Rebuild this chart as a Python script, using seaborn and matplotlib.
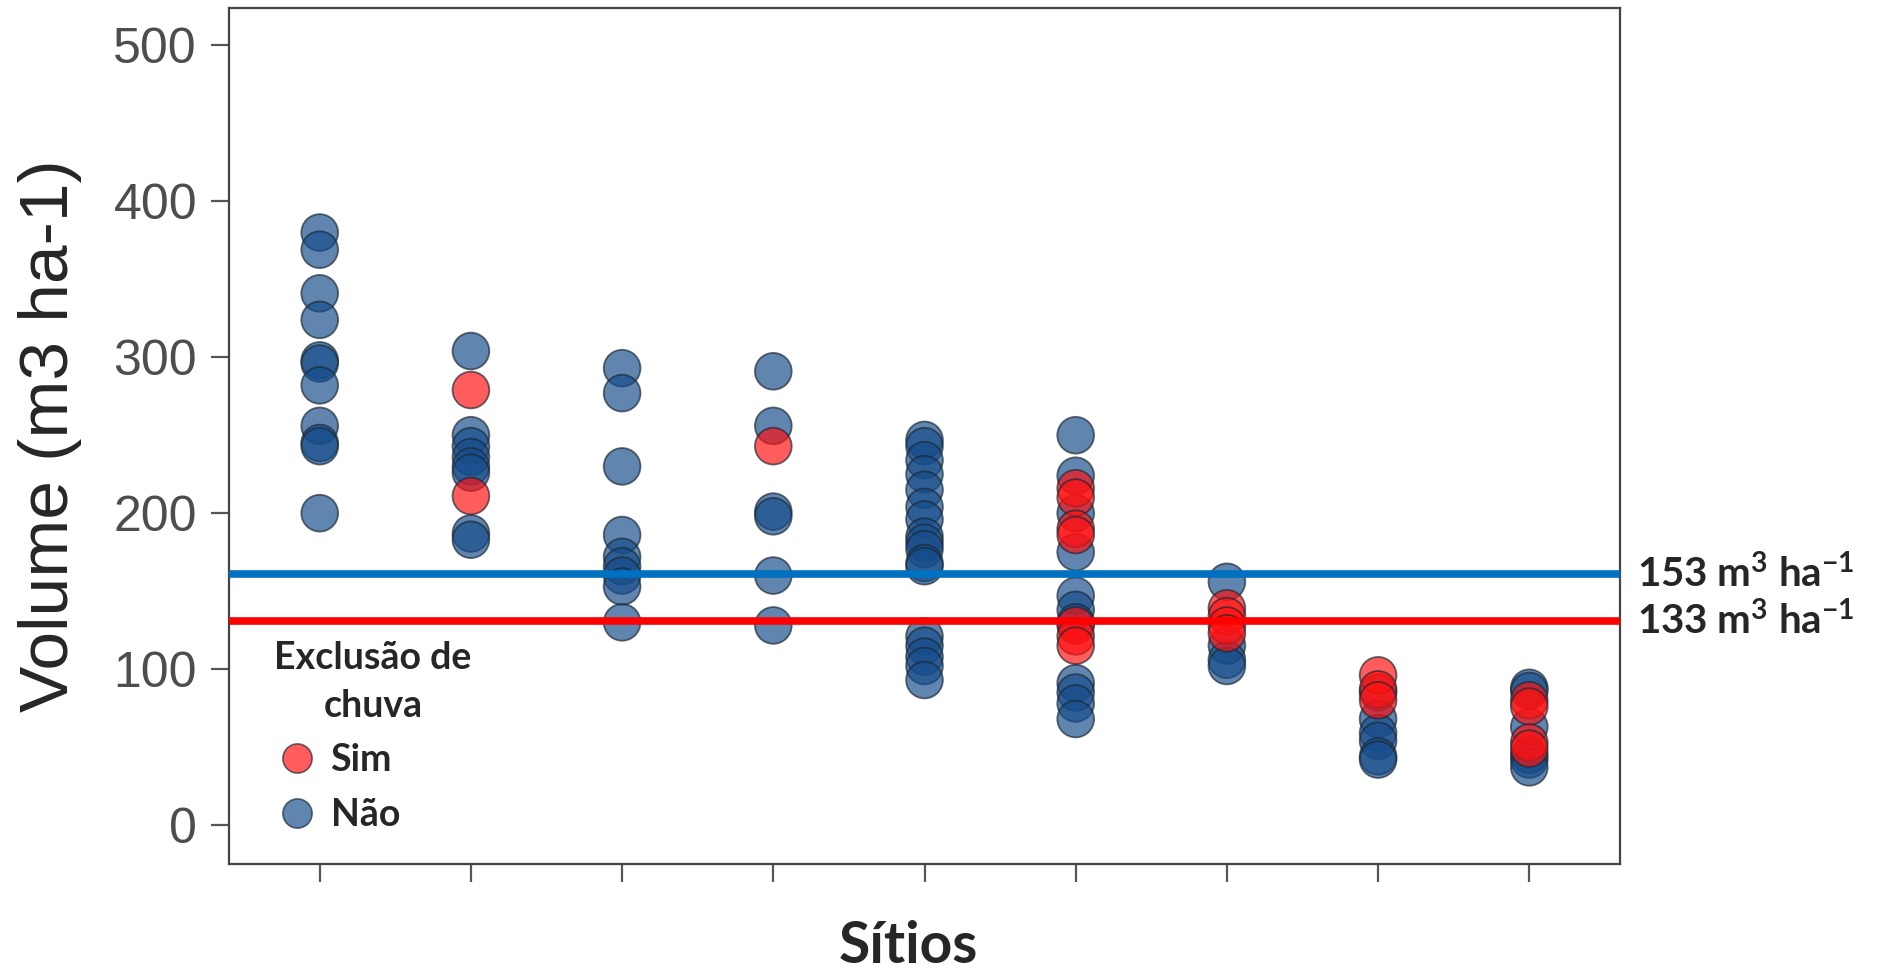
import pandas as pd
import numpy as np
import matplotlib
matplotlib.use("Agg")
import matplotlib.pyplot as plt
import matplotlib.transforms as mtransforms
from matplotlib.lines import Line2D
import seaborn as sns

# Sítios (sem rótulos no eixo x no original)
sitios = [1, 2, 3, 4, 5, 6, 7, 8, 9]

# Volume por sítio - parcelas sem exclusão de chuva (Não)
volume_nao = [
    [380, 369, 341, 324, 298, 296, 282, 256, 245, 243, 200],
    [304, 250, 243, 236, 230, 226, 187, 183],
    [293, 277, 230, 186, 172, 166, 160, 153, 130],
    [291, 256, 201, 198, 160, 128],
    [247, 243, 234, 225, 215, 204, 196, 185, 181, 177, 168, 166, 121, 115, 108, 102, 93],
    [250, 224, 200, 175, 147, 138, 130, 91, 85, 78, 68],
    [156, 115, 106, 102],
    [85, 68, 59, 54, 44, 42],
    [88, 86, 63, 45, 42, 37],
]

# Volume por sítio - parcelas com exclusão de chuva (Sim)
volume_sim = [
    [],
    [279, 211],
    [],
    [243],
    [],
    [216, 210, 190, 186, 128, 121, 115],
    [139, 134, 128, 123],
    [96, 87, 80],
    [80, 76, 53, 49],
]

# Médias (linhas horizontais) e rótulos
linhas_y = [161, 131]
linhas_cor = ["#0070c0", "#ff0000"]
linhas_rotulo = [r"153 m$^{3}$ ha$^{-1}$", r"133 m$^{3}$ ha$^{-1}$"]

cores = {"Não": "#154c8a", "Sim": "#ff1010"}

rows = []
for s, vals in zip(sitios, volume_nao):
    for v in vals:
        rows.append({"Sitio": s, "Volume": v, "Exclusao": "Não"})
for s, vals in zip(sitios, volume_sim):
    for v in vals:
        rows.append({"Sitio": s, "Volume": v, "Exclusao": "Sim"})
df = pd.DataFrame(rows)

sns.set_style("white")
bold_font = ["Lato", "DejaVu Sans"]
plt.rcParams["mathtext.fontset"] = "custom"
plt.rcParams["mathtext.rm"] = "Lato:bold"
plt.rcParams["mathtext.it"] = "Lato:bold"
plt.rcParams["mathtext.bf"] = "Lato:bold"
plt.rcParams["mathtext.default"] = "rm"

fig = plt.figure(figsize=(18.82, 9.73), dpi=100)
ax = fig.add_axes([229 / 1882, 1 - 864 / 973, 1391 / 1882, 856 / 973])

sns.scatterplot(data=df, x="Sitio", y="Volume", hue="Exclusao", palette=cores,
                s=700, alpha=0.68, edgecolor="#1c2833", linewidth=1.3,
                legend=False, ax=ax, zorder=2)

for y, c in zip(linhas_y, linhas_cor):
    ax.axhline(y, color=c, lw=5.5, zorder=3)

# rótulos à direita do gráfico
trans = mtransforms.blended_transform_factory(ax.transAxes, ax.transData)
for y, txt in zip(linhas_y, linhas_rotulo):
    ax.text(1.012, y, txt, transform=trans, ha="left", va="center",
            fontsize=29, fontweight="bold", family=bold_font, clip_on=False)

ax.set_xlim(0.4, 9.6)
ax.set_ylim(-25, 524)
ax.set_xticks(sitios)
ax.set_xticklabels([])
ax.set_yticks([0, 100, 200, 300, 400, 500])
ax.tick_params(axis="both", which="both", direction="out", length=13, width=1.6,
               color="#555555", left=True, bottom=True)
ax.tick_params(axis="y", labelsize=36, labelcolor="#4d4d4d", pad=10)
for lab in ax.get_yticklabels():
    lab.set_family("Liberation Sans")

for sp in ax.spines.values():
    sp.set_visible(True)
    sp.set_color("#444444")
    sp.set_linewidth(1.6)

ax.set_ylabel("Volume (m3 ha-1)", fontsize=50, family="Liberation Sans", va="center")
ax.yaxis.set_label_coords(-0.129, 0.5)
ax.set_xlabel("Sítios", fontsize=41, fontweight="bold", family=bold_font)
ax.xaxis.set_label_coords((908 - 229) / 1391, -0.066)

# legenda
handles = [
    Line2D([], [], ls="none", marker="o", markersize=21, markerfacecolor=cores["Sim"],
           alpha=0.68, markeredgecolor="#1c2833", markeredgewidth=1.2),
    Line2D([], [], ls="none", marker="o", markersize=21, markerfacecolor=cores["Não"],
           alpha=0.68, markeredgecolor="#1c2833", markeredgewidth=1.2),
]
leg = ax.legend(handles, ["Sim", "Não"], title="Exclusão de\nchuva",
                loc="upper left", bbox_to_anchor=(0.011, 0.296), frameon=False,
                prop={"family": bold_font, "weight": "bold", "size": 27},
                title_fontproperties={"family": bold_font, "weight": "bold", "size": 27},
                handletextpad=0.3, labelspacing=0.55, borderpad=0.3, handlelength=1.2,
                alignment="left")
leg.get_title().set_multialignment("center")
leg.get_title().set_linespacing(1.5)

fig.savefig("out.png", dpi=100)
